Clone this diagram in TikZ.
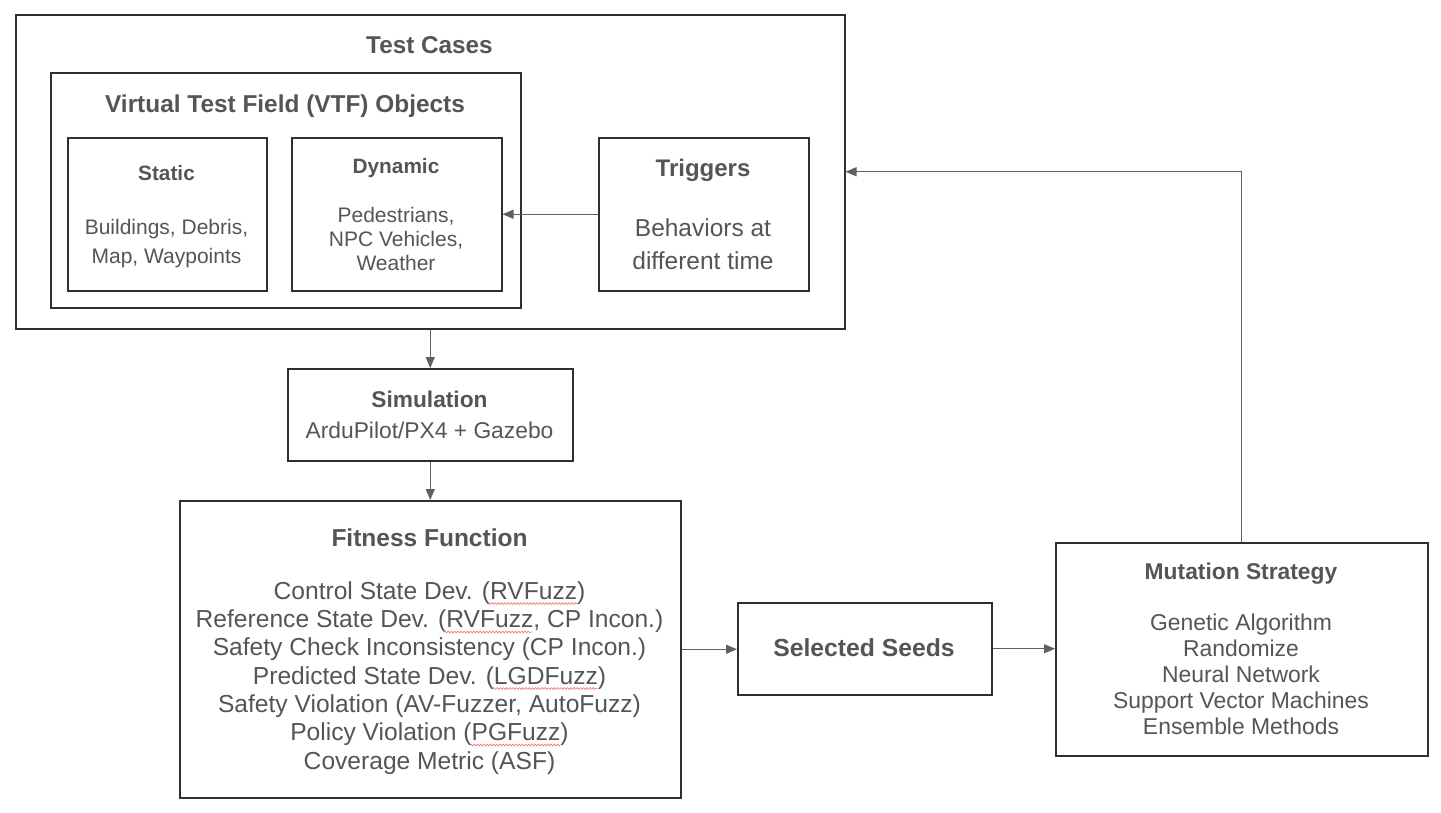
\documentclass[tikz,border=0pt]{standalone}
\usepackage{fontspec}
\setmainfont{Liberation Sans}
\usetikzlibrary{arrows.meta,decorations.pathmorphing}
\definecolor{txtgray}{HTML}{555555}
\definecolor{boxline}{HTML}{2E2E2E}
\definecolor{arrgray}{HTML}{606060}
\definecolor{spell}{HTML}{F07070}
\newcommand{\fs}[1]{\fontsize{#1}{#1}\selectfont}
\begin{document}
\begin{tikzpicture}[x=1pt,y=-1pt,
  box/.style={draw=boxline,line width=1.5pt,inner sep=0pt,anchor=north west},
  lbl/.style={text=txtgray,inner sep=0pt,anchor=base},
  arr/.style={draw=arrgray,line width=1.3pt,-{Triangle[length=11pt,width=9pt]}},
  squig/.style={draw=spell,line width=0.6pt,decorate,decoration={snake,amplitude=0.9pt,segment length=3.2pt}}]
\useasboundingbox[fill=white] (0,0) rectangle (1441,812);

% boxes
\node[box,minimum width=829,minimum height=314] (tc) at (15,14) {};
\node[box,minimum width=470,minimum height=235] (vtf) at (50,72) {};
\node[box,minimum width=199,minimum height=153] (stat) at (67,137) {};
\node[box,minimum width=210,minimum height=153] (dyn) at (291,137) {};
\node[box,minimum width=210,minimum height=153] (trig) at (598,137) {};
\node[box,minimum width=285,minimum height=92] (sim) at (287,368) {};
\node[box,minimum width=501,minimum height=297] (fit) at (179,500) {};
\node[box,minimum width=254,minimum height=92] (seeds) at (737,602) {};
\node[box,minimum width=372,minimum height=213] (mut) at (1055,542) {};

% texts
\node[lbl,font=\bfseries\fs{24.3}] (tct) at (429.5,53) {Test Cases};
\node[lbl,font=\bfseries\fs{24.4}] (vtft) at (285,112) {Virtual Test Field (VTF) Objects};

\node[lbl,font=\bfseries\fs{20.8}] (statt) at (166.5,180) {Static};
\node[lbl,font=\fs{21}] (stat1) at (166.5,234) {Buildings, Debris,};
\node[lbl,font=\fs{21}] (stat2) at (166.5,263) {Map, Waypoints};

\node[lbl,font=\bfseries\fs{20.8}] (dynt) at (396,173) {Dynamic};
\node[lbl,font=\fs{21}] (dyn1) at (396,222) {Pedestrians,};
\node[lbl,font=\fs{21}] (dyn2) at (396,246) {NPC Vehicles,};
\node[lbl,font=\fs{21}] (dyn3) at (396,270) {Weather};

\node[lbl,font=\bfseries\fs{24}] (trigt) at (703,176) {Triggers};
\node[lbl,font=\fs{24.5}] (trig1) at (703,236) {Behaviors at};
\node[lbl,font=\fs{24.5}] (trig2) at (703,269.5) {different time};

\node[lbl,font=\bfseries\fs{22.7}] (simt) at (429.5,407) {Simulation};
\node[lbl,font=\fs{22.8}] (sim1) at (429.5,438) {ArduPilot/PX4 + Gazebo};

\node[lbl,font=\bfseries\fs{24.5}] (fitt) at (429.5,546.5) {Fitness Function};
\node[lbl,font=\fs{24.6}] (f1) at (429.5,599.3) {Control State Dev. (RVFuzz)};
\node[lbl,font=\fs{24.6}] (f2) at (429.5,627.5) {Reference State Dev. (RVFuzz, CP Incon.)};
\node[lbl,font=\fs{24.6}] (f3) at (429.5,655.8) {Safety Check Inconsistency (CP Incon.)};
\node[lbl,font=\fs{24.6}] (f4) at (429.5,684.1) {Predicted State Dev. (LGDFuzz)};
\node[lbl,font=\fs{24.6}] (f5) at (429.5,712.5) {Safety Violation (AV-Fuzzer, AutoFuzz)};
\node[lbl,font=\fs{24.6}] (f6) at (429.5,740.8) {Policy Violation (PGFuzz)};
\node[lbl,font=\fs{24.6}] (f7) at (429.5,769.1) {Coverage Metric (ASF)};

\node[lbl,font=\bfseries\fs{24.7}] (seedst) at (864,656.7) {Selected Seeds};

\node[lbl,font=\bfseries\fs{22.8}] (mutt) at (1241,579) {Mutation Strategy};
\node[lbl,font=\fs{22.9}] (m1) at (1241,630) {Genetic Algorithm};
\node[lbl,font=\fs{22.9}] (m2) at (1241,656) {Randomize};
\node[lbl,font=\fs{22.9}] (m3) at (1241,682) {Neural Network};
\node[lbl,font=\fs{22.9}] (m4) at (1241,708) {Support Vector Machines};
\node[lbl,font=\fs{22.9}] (m5) at (1241,734) {Ensemble Methods};

% spell-check squiggles
\draw[squig] (488,603.5) -- (577,603.5);
\draw[squig] (444,632) -- (532,632);
\draw[squig] (493,688.5) -- (597,688.5);
\draw[squig] (470,745) -- (560,745);

% connectors
\draw[arr] (trig.west) -- (dyn.east);
\draw[arr] (tc.south) -- (sim.north);
\draw[arr] (sim.south) -- (fit.north);
\draw[arr] (fit.east) -- (fit.east -| seeds.west);
\draw[arr] (seeds.east) -- (seeds.east -| mut.west);
\draw[arr] (mut.north) |- (tc.east);
\end{tikzpicture}
\end{document}
